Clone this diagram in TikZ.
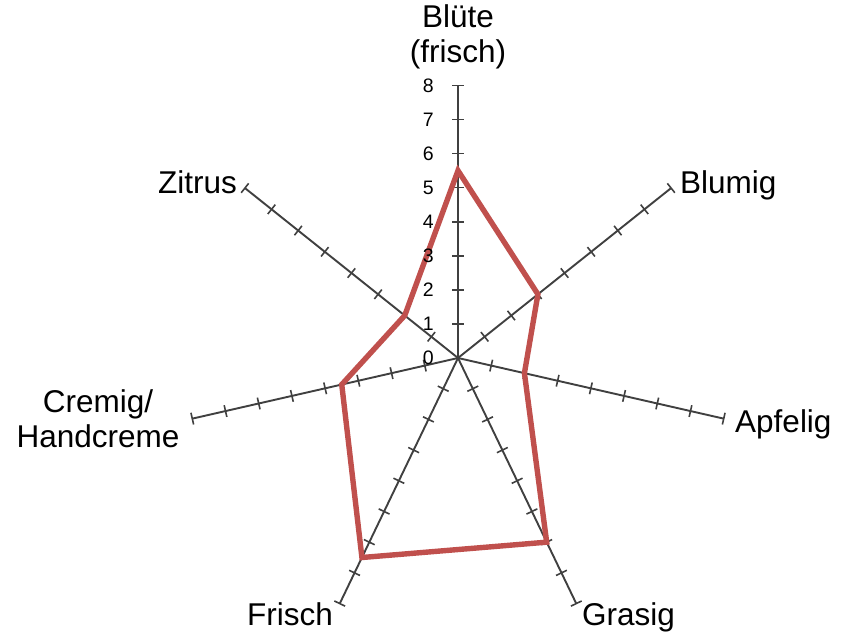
\documentclass[tikz,border=0pt]{standalone}
\usepackage{fontspec}
\setmainfont{Liberation Sans}
\usetikzlibrary{calc}
\definecolor{axisgray}{HTML}{404040}
\definecolor{seriesred}{HTML}{C0504D}
\begin{document}
\begin{tikzpicture}[x=1pt,y=1pt,
  axisline/.style={draw=axisgray, line width=1.9pt},
  tickmark/.style={draw=axisgray, line width=1.6pt},
  series/.style={draw=seriesred, line width=5.4pt},
  catlabel/.style={font=\fontsize{31.5}{35}\selectfont, inner sep=0pt},
  numlabel/.style={font=\fontsize{19.5}{22}\selectfont, inner sep=0pt, anchor=east}]
\useasboundingbox (0,-634) rectangle (849,0);
\coordinate (C) at (458,-358);
\def\unitlen{34.07}
% axes and ticks
\foreach \k in {0,...,6}{
  \pgfmathsetmacro{\ang}{90-\k*360/7}
  \coordinate (e\k) at ($(C)+(\ang:8*\unitlen)$);
  \draw[axisline] (C) -- (e\k);
  \foreach \i in {1,...,8}{
    \coordinate (t\k-\i) at ($(C)+(\ang:\i*\unitlen)$);
    \draw[tickmark] ($(t\k-\i)+(\ang+90:6)$) -- ($(t\k-\i)+(\ang-90:6)$);
  }
}
% series
\foreach \k/\v in {0/5.5,1/3,2/2,3/6,4/6.5,5/3.5,6/2}{
  \pgfmathsetmacro{\ang}{90-\k*360/7}
  \coordinate (p\k) at ($(C)+(\ang:\v*\unitlen)$);
}
\draw[series] (p0) -- (p1) -- (p2) -- (p3) -- (p4) -- (p5) -- (p6) -- cycle;
% scale numbers
\foreach \i in {0,...,8}{
  \node[numlabel] (n\i) at ($(C)+(-24,\i*\unitlen)$) {\i};
}
% category labels
\node[catlabel, anchor=south, align=center] (lbl0) at (458,-69) {Blüte\\(frisch)};
\node[catlabel, anchor=base west] (lbl1) at (680,-193) {Blumig};
\node[catlabel, anchor=base west] (lbl2) at (735,-432) {Apfelig};
\node[catlabel, anchor=base west] (lbl3) at (582,-625) {Grasig};
\node[catlabel, anchor=base east] (lbl4) at (333,-625) {Frisch};
\node[catlabel, anchor=south, align=center] (lbl5) at (98,-448) {Cremig/\\Handcreme};
\node[catlabel, anchor=base east] (lbl6) at (237,-193) {Zitrus};
\end{tikzpicture}
\end{document}
